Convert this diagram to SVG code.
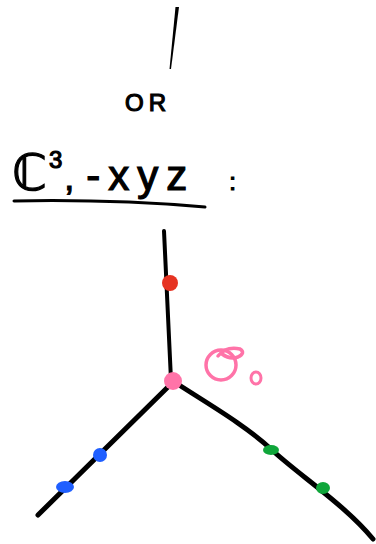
<svg xmlns="http://www.w3.org/2000/svg" width="376" height="544" viewBox="0 0 376 544">
<style>
.ink{fill:none;stroke:#000;stroke-linecap:round;stroke-linejoin:round}
.txt{font-family:"Liberation Sans","DejaVu Sans",sans-serif;fill:#000;stroke:#000;stroke-width:1.2}
</style>
<rect width="376" height="544" fill="#fff"/>
<g id="top-stroke">
<path d="M175.5,7 L179,7 L171,69 L169.5,69 Z" fill="#000"/>
</g>
<g id="label-or">
<text class="txt" x="148" y="111" font-size="24" text-anchor="middle" letter-spacing="5">OR</text>
</g>
<g id="label-c3">
<text class="txt" x="12" y="190"><tspan font-size="50">ℂ</tspan><tspan font-size="24" dx="2" dy="-22">3</tspan><tspan font-size="36" dx="2" dy="22">,</tspan><tspan font-size="42" dx="12" letter-spacing="8">-xyz</tspan><tspan font-size="24" dx="34">:</tspan></text>
<path class="ink" stroke-width="3" d="M14,201 Q110,199 205,207"/>
</g>
<g id="connectors">
<path class="ink" stroke-width="4" d="M164,231 L171,380"/>
<path class="ink" stroke-width="5" d="M172,383 L38,515"/>
<path class="ink" stroke-width="5" d="M176,383 C210,405 245,425 272,450 S345,505 373,539"/>
</g>
<g id="node-red"><circle cx="170" cy="283" r="8" fill="#e63322"/></g>
<g id="node-pink"><circle cx="173" cy="381" r="9" fill="#ff73a8"/></g>
<g id="label-o0">
<circle cx="221" cy="365" r="15" fill="none" stroke="#ff73a8" stroke-width="3.5"/>
<path d="M218,356 Q226,346 240,349 Q246,353 238,357 Q230,360 222,354" fill="none" stroke="#ff73a8" stroke-width="3.5" stroke-linecap="round"/>
<ellipse cx="256" cy="378" rx="5" ry="6" fill="none" stroke="#ff73a8" stroke-width="3"/>
</g>
<g id="node-blue1"><circle cx="100" cy="455" r="7" fill="#1f5fff"/></g>
<g id="node-blue2"><ellipse cx="65" cy="487" rx="9" ry="6" fill="#1f5fff"/></g>
<g id="node-green1"><ellipse cx="271" cy="450" rx="8" ry="5" fill="#0fa63a"/></g>
<g id="node-green2"><ellipse cx="323" cy="488" rx="7" ry="6" fill="#0fa63a"/></g>
</svg>
